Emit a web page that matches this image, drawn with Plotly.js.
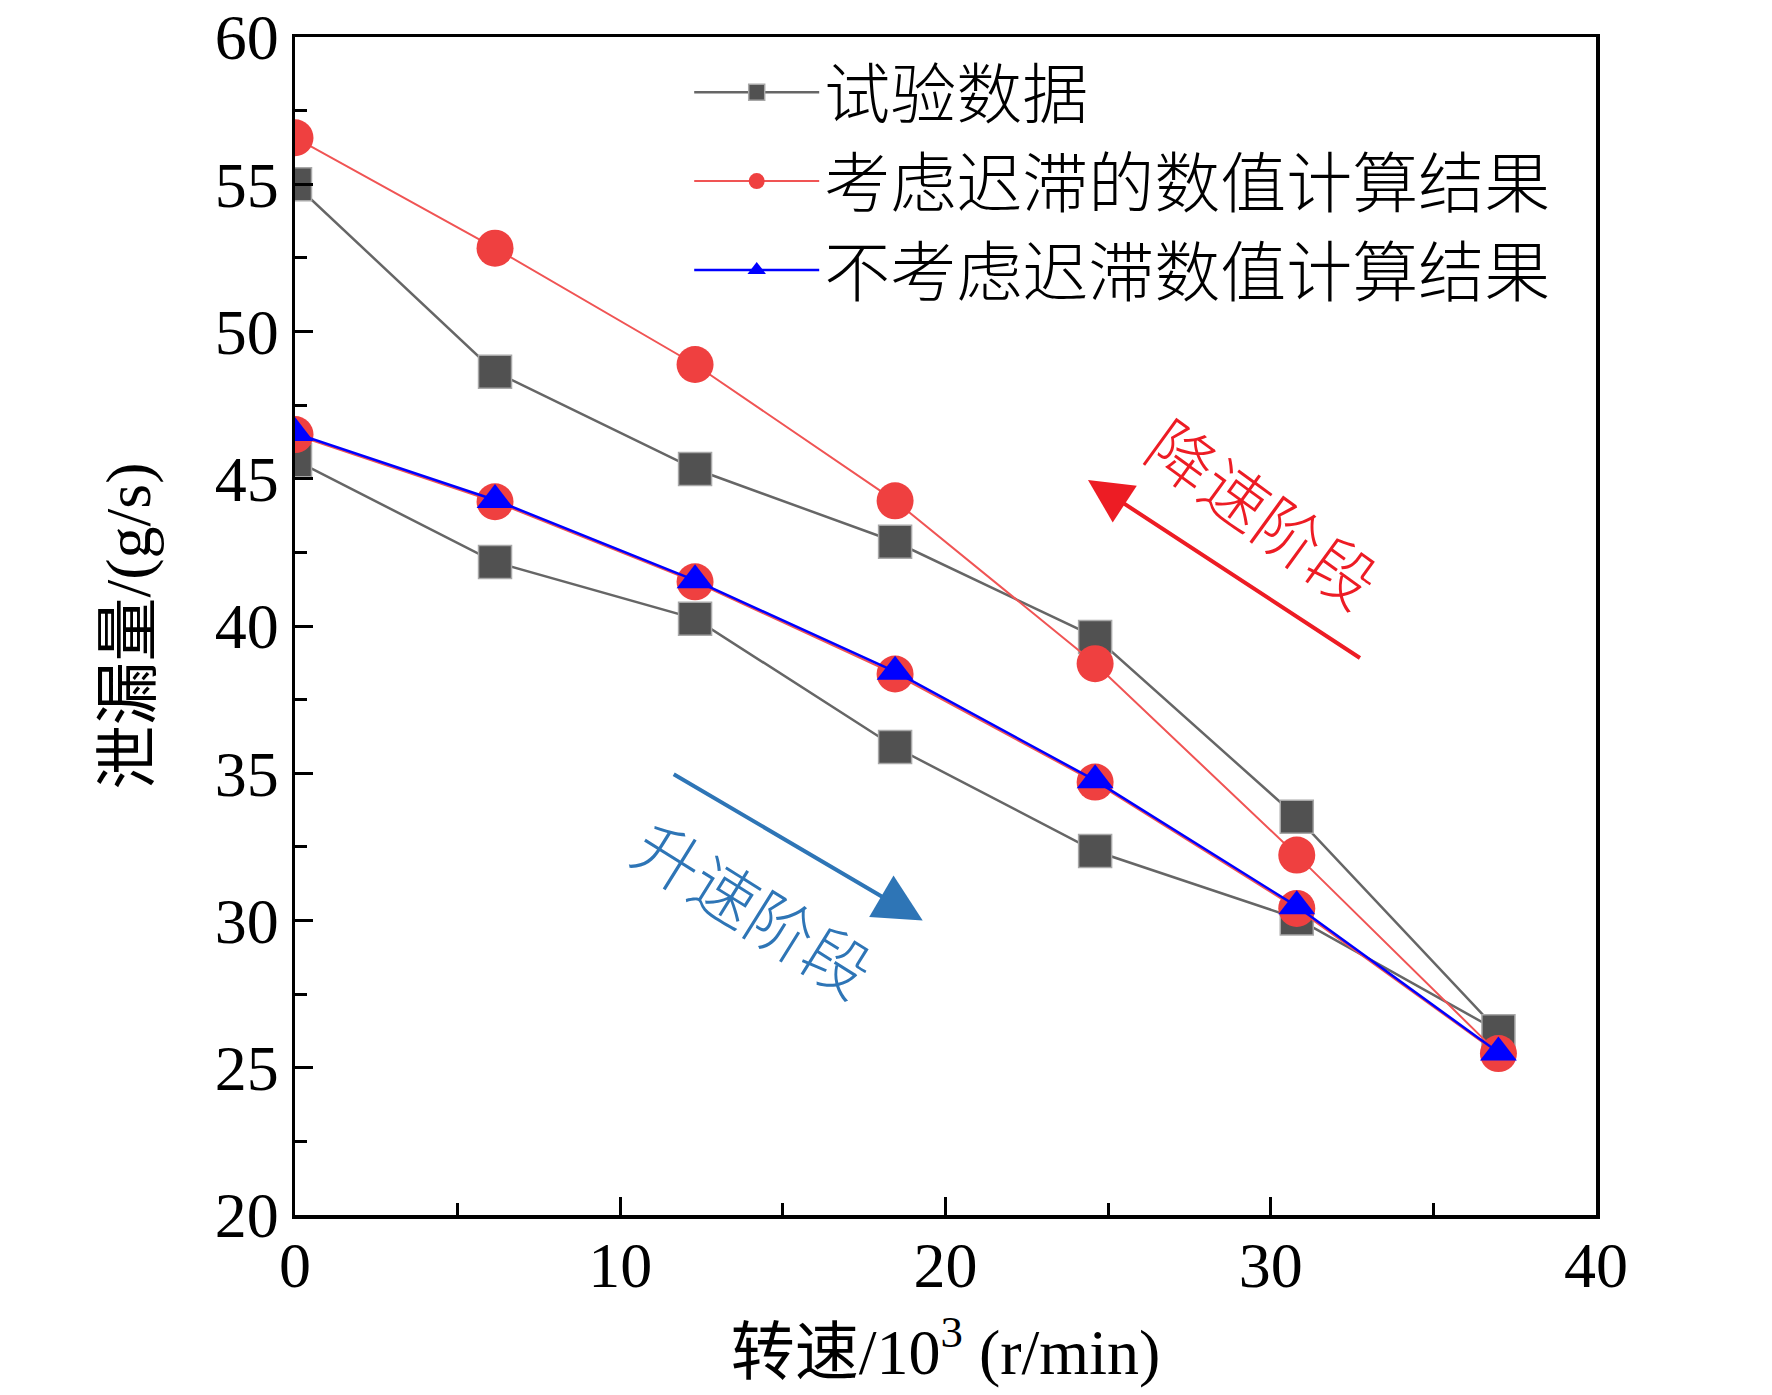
<!DOCTYPE html>
<html>
<head>
<meta charset="utf-8">
<script src="https://cdn.plot.ly/plotly-3.0.1.min.js"></script>
<style>
  body { margin: 0; background: #fff; }
  #leak_graph { width: 1772px; height: 1395px; }
</style>
</head>
<body>
<div id="leak_graph"></div>
<script>
// rotational speed, 10^3 r/min
const speed = [0, 6.15, 12.3, 18.45, 24.6, 30.8, 37.0];

// test data: acceleration branch and deceleration branch
const testAccel = [45.63, 42.17, 40.25, 35.89, 32.36, 30.07, 26.24];
const testDecel = [55.0, 48.63, 45.33, 42.86, 39.63, 33.52, 26.24];

// numerical results with hysteresis
const hystAccel = [46.5, 44.22, 41.5, 38.37, 34.7, 30.41, 25.48];
const hystDecel = [56.58, 52.83, 48.88, 44.25, 38.72, 32.22, 25.48];

// numerical results without hysteresis
const noHyst = [46.55, 44.28, 41.55, 38.45, 34.76, 30.48, 25.52];

const legendNames = ['试验数据', '考虑迟滞的数值计算结果', '不考虑迟滞数值计算结果'];
const yTicks = [20, 25, 30, 35, 40, 45, 50, 55, 60];
const xTicks = [0, 10, 20, 30, 40];

// go up in speed then come back down, as one loop
function loop(accel, decel) {
    return {
        x: speed.concat(speed.slice(0, -1).reverse()),
        y: accel.concat(decel.slice(0, -1).reverse())
    };
}

const testLoop = loop(testAccel, testDecel);
const hystLoop = loop(hystAccel, hystDecel);

let data = [
    {
        type: 'scatter',
        mode: 'lines+markers',
        x: testLoop.x,
        y: testLoop.y,
        name: legendNames[0],
        line: {color: '#666666', width: 2.5},
        marker: {symbol: 'square', size: 33, color: '#515151', line: {color: '#a8a8a8', width: 1.5}}
    },
    {
        type: 'scatter',
        mode: 'lines+markers',
        x: hystLoop.x,
        y: hystLoop.y,
        name: legendNames[1],
        line: {color: '#f05454', width: 2},
        marker: {symbol: 'circle', size: 37, color: '#ef4040'}
    },
    {
        type: 'scatter',
        mode: 'lines+markers',
        x: speed,
        y: noHyst,
        name: legendNames[2],
        line: {color: '#0000ff', width: 2.5},
        marker: {symbol: 'triangle-up', size: 32, color: '#0000ff'}
    }
];

let axisCommon = {
    showline: true,
    linecolor: '#000',
    linewidth: 3.5,
    mirror: true,
    showgrid: false,
    zeroline: false,
    ticks: 'inside',
    ticklen: 18,
    tickwidth: 3,
    tickcolor: '#000',
    ticklabeloverflow: 'allow',
    tickfont: {family: 'Liberation Serif, serif', size: 64, color: '#000'}
};

let cjkFont = 'Noto Sans CJK SC';

let layout = {
    width: 1772,
    height: 1395,
    margin: {l: 295, r: 176, t: 37, b: 180},
    paper_bgcolor: '#fff',
    plot_bgcolor: '#fff',
    font: {family: 'Liberation Serif, Noto Sans CJK SC, serif', color: '#000'},
    showlegend: true,
    legend: {
        x: 0.303,
        y: 0.995,
        xanchor: 'left',
        yanchor: 'top',
        bgcolor: 'rgba(0,0,0,0)',
        font: {family: cjkFont, size: 66, color: '#000', weight: 300},
        itemwidth: 125
    },
    xaxis: Object.assign({}, axisCommon, {
        range: [0, 40],
        tickmode: 'array',
        tickvals: xTicks,
        ticklabelstandoff: -8,
        minor: {ticks: 'inside', dtick: 5, ticklen: 12, tickwidth: 3, tickcolor: '#000'},
        title: {
            text: '转速/10<sup>3</sup> (r/min)',
            font: {family: 'Liberation Serif, Noto Sans CJK SC', size: 64, color: '#000'},
            standoff: 30
        }
    }),
    yaxis: Object.assign({}, axisCommon, {
        range: [20, 60],
        tickmode: 'array',
        tickvals: yTicks,
        minor: {ticks: 'inside', dtick: 2.5, ticklen: 12, tickwidth: 3, tickcolor: '#000'},
        title: {
            text: '泄漏量/(g/s)',
            font: {family: 'Liberation Serif, Noto Sans CJK SC', size: 64, color: '#000'},
            standoff: 44
        }
    }),
    annotations: [
        // deceleration arrow, pointing up-left
        {x: 24.38, y: 44.96, xref: 'x', yref: 'y', ax: 275, ay: 180, text: ' ',
         showarrow: true, arrowhead: 2, arrowsize: 2.2, arrowwidth: 4, arrowcolor: '#ed1c24'},
        {x: 29.82, y: 43.92, xref: 'x', yref: 'y', text: '降速阶段', showarrow: false, textangle: 36,
         font: {family: cjkFont, size: 66, color: '#ed1c24', weight: 300}},
        // acceleration arrow, pointing down-right
        {x: 19.3, y: 30.0, xref: 'x', yref: 'y', ax: -252, ay: -148, text: ' ',
         showarrow: true, arrowhead: 2, arrowsize: 2.4, arrowwidth: 4, arrowcolor: '#2e75b6'},
        {x: 14.14, y: 30.48, xref: 'x', yref: 'y', text: '升速阶段', showarrow: false, textangle: 32,
         font: {family: cjkFont, size: 66, color: '#2e75b6', weight: 300}}
    ]
};

Plotly.newPlot('leak_graph', data, layout, {staticPlot: true});
</script>
</body>
</html>
